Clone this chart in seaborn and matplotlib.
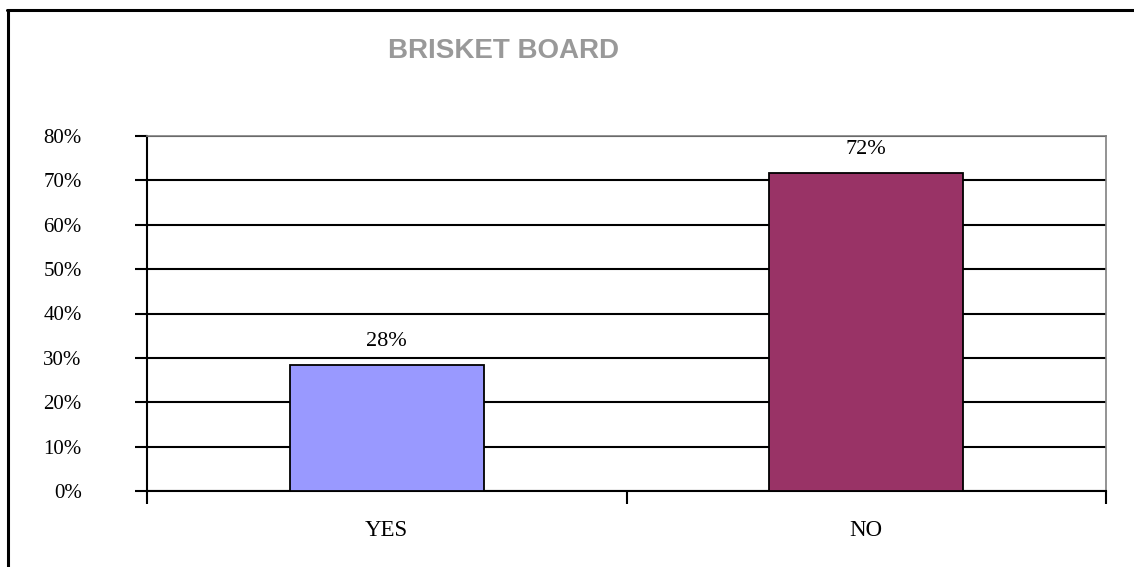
import matplotlib
matplotlib.use("Agg")
import matplotlib.pyplot as plt
import seaborn as sns
import pandas as pd
from matplotlib.lines import Line2D
from matplotlib.ticker import MultipleLocator, FuncFormatter

categories = ["YES", "NO"]
values = [0.284, 0.716]
colors = ["#9999FF", "#993366"]
title = "BRISKET BOARD"

df = pd.DataFrame({"answer": categories, "share": values})

sns.set_theme(style="white")
plt.rcParams["font.family"] = ["Liberation Serif", "DejaVu Serif"]

fig = plt.figure(figsize=(11.34, 5.67), dpi=100)
ax = fig.add_axes([147 / 1134, 76 / 567, (1106 - 147) / 1134, (491 - 136) / 567])

sns.barplot(data=df, x="answer", y="share", hue="answer", palette=colors,
            saturation=1, width=0.405, edgecolor="black", linewidth=1.3,
            legend=False, ax=ax, zorder=3)

ax.set_ylim(0, 0.8)
ax.set_xlim(-0.5, 1.5)
ax.yaxis.set_major_locator(MultipleLocator(0.1))
ax.yaxis.set_major_formatter(FuncFormatter(lambda v, p: f"{v*100:.0f}%"))
ax.grid(axis="y", color="black", linewidth=1.5, zorder=0)
ax.set_axisbelow(True)

for side in ["left", "bottom"]:
    ax.spines[side].set_color("black")
    ax.spines[side].set_linewidth(1.5)
for side in ["top", "right"]:
    ax.spines[side].set_color("#808080")
    ax.spines[side].set_linewidth(1.2)

ax.set_xlabel("")
ax.set_ylabel("")
ax.set_xticks([-0.5, 0.5, 1.5], minor=False)
ax.set_xticklabels([])
ax.set_xticks([0, 1], minor=True)
ax.set_xticklabels(categories, minor=True)
ax.tick_params(axis="x", which="major", direction="out", length=9, width=1.5,
               color="black", bottom=True)
ax.tick_params(axis="x", which="minor", length=0, pad=21, labelsize=16.5,
               labelcolor="black")
ax.tick_params(axis="y", direction="out", length=9, width=1.5, color="black",
               left=True, pad=38, labelsize=15, labelcolor="black")

for i, v in enumerate(values):
    ax.annotate(f"{v*100:.0f}%", xy=(i, v), xytext=(0, 10),
                textcoords="offset points", ha="center", va="bottom",
                fontsize=16, color="black")

fig.text(503 / 1134, 1 - 51 / 567, title, ha="center", va="center",
         fontsize=20, fontweight="bold", color="#999999",
         family=["Liberation Sans", "DejaVu Sans"])

fig.add_artist(Line2D([7.5 / 1134, 7.5 / 1134], [0, 1 - 10 / 567],
                      transform=fig.transFigure, color="black", linewidth=2.2))
fig.add_artist(Line2D([6.5 / 1134, 1], [1 - 10 / 567, 1 - 10 / 567],
                      transform=fig.transFigure, color="black", linewidth=2.2))

fig.savefig("out.png", dpi=100, facecolor="white")
